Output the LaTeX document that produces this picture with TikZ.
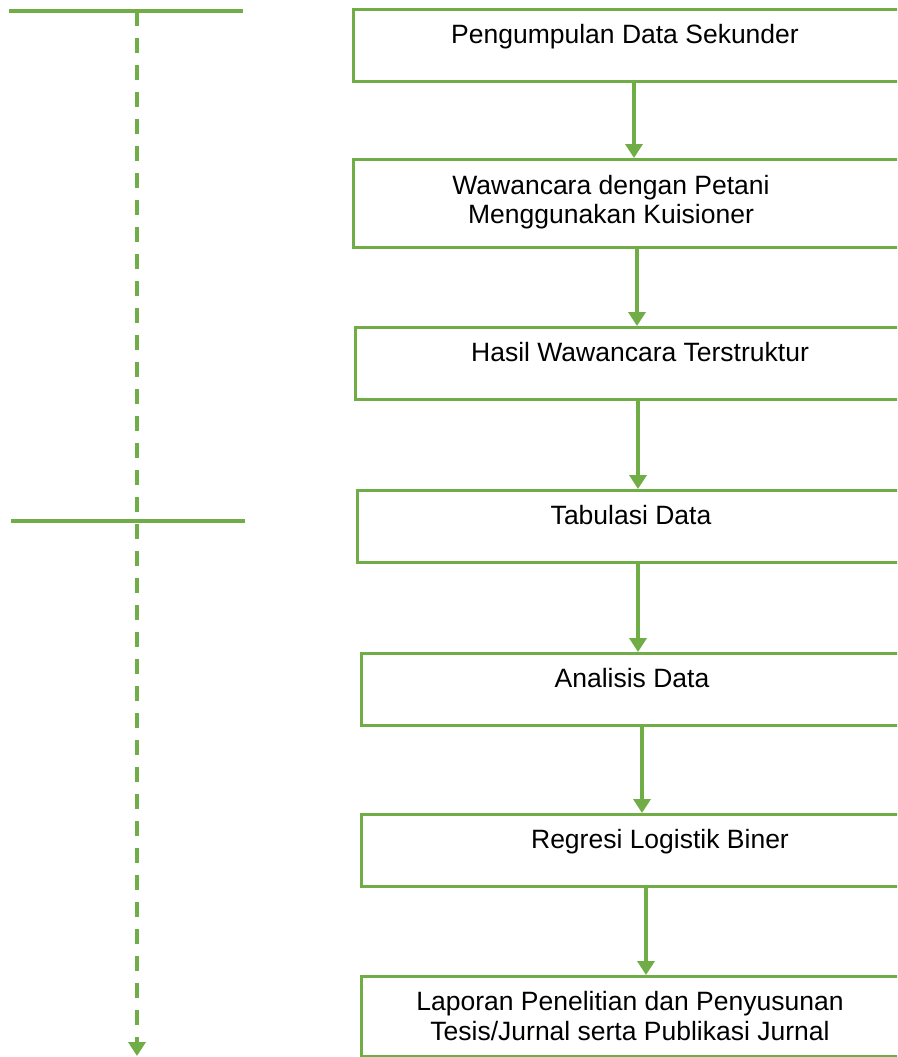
\documentclass[tikz,border=0pt]{standalone}
\usepackage{fontspec}
\setmainfont{Liberation Sans}
\usetikzlibrary{arrows.meta}
\definecolor{lg}{HTML}{70AD47}
\begin{document}
\begin{tikzpicture}[x=1pt,y=-1pt,
  box/.style={draw=lg,line width=2.6pt,rectangle,anchor=north west,inner sep=0pt},
  txt/.style={font=\fontsize{26.5}{29.5}\selectfont,align=center,inner sep=0pt,text=black,anchor=base},
  arr/.style={draw=lg,line width=3.8pt,-{Triangle[width=17pt,length=14pt]}},
  hl/.style={draw=lg,line width=4pt},
  dl/.style={draw=lg,line width=4pt,dash pattern=on 15pt off 12pt,-{Triangle[width=17pt,length=14pt]}}]
\useasboundingbox (0,0) rectangle (897,1057);
\clip (0,0) rectangle (897,1057);
% boxes
\node[box,minimum width=548pt,minimum height=72pt] (b1) at (352,8) {};
\node[box,minimum width=548pt,minimum height=88pt] (b2) at (352,158) {};
\node[box,minimum width=546pt,minimum height=72pt] (b3) at (354,326) {};
\node[box,minimum width=544pt,minimum height=72pt] (b4) at (356,489) {};
\node[box,minimum width=540pt,minimum height=72pt] (b5) at (360,652) {};
\node[box,minimum width=540pt,minimum height=72pt] (b6) at (360,813) {};
\node[box,minimum width=540pt,minimum height=80pt] (b7) at (360,975) {};
% texts
\node[txt] (t1) at (625,43.5) {Pengumpulan Data Sekunder};
\node[txt] (t2) at (611,223.5) {Wawancara dengan Petani\\Menggunakan Kuisioner};
\node[txt] (t3) at (640,361) {Hasil Wawancara Terstruktur};
\node[txt] (t4) at (631,524) {Tabulasi Data};
\node[txt] (t5) at (632,687) {Analisis Data};
\node[txt] (t6) at (660,848) {Regresi Logistik Biner};
\node[txt] (t7) at (630,1040) {Laporan Penelitian dan Penyusunan\\Tesis/Jurnal serta Publikasi Jurnal};
% arrows
\draw[arr] (b1.south -| 634,0) -- (b2.north -| 634,0);
\draw[arr] (b2.south -| 637,0) -- (b3.north -| 637,0);
\draw[arr] (b3.south -| 638,0) -- (b4.north -| 638,0);
\draw[arr] (b4.south -| 638,0) -- (b5.north -| 638,0);
\draw[arr] (b5.south -| 642,0) -- (b6.north -| 642,0);
\draw[arr] (b6.south -| 646,0) -- (b7.north -| 646,0);
% left lines
\coordinate (h1a) at (9,11);
\coordinate (h1b) at (243,11);
\coordinate (h2a) at (11,521);
\coordinate (h2b) at (245,521);
\coordinate (dtop) at (137,11);
\coordinate (dend) at (137,1056);
\draw[hl] (h1a) -- (h1b);
\draw[hl] (h2a) -- (h2b);
\draw[dl] (dtop) -- (dend);
\end{tikzpicture}
\end{document}
